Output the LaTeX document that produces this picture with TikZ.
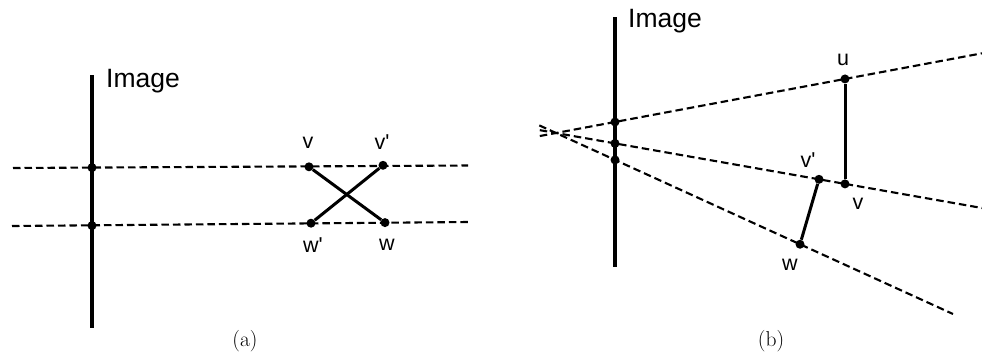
\documentclass[tikz,border=0pt]{standalone}
\usepackage{fontspec}
\newfontfamily\lblfont{Liberation Sans}
\usetikzlibrary{calc}
\begin{document}
\begin{tikzpicture}[x=1pt,y=-1pt,
  imgline/.style={line width=3.4pt},
  rayline/.style={line width=2.1pt, dash pattern=on 7.5pt off 4pt},
  segline/.style={line width=3pt},
  dotnode/.style={circle, fill=black, inner sep=0pt, minimum size=9pt},
  lbl/.style={font=\lblfont\fontsize{21.5}{23}\selectfont, inner sep=0pt},
  imglbl/.style={font=\lblfont\fontsize{26.5}{28}\selectfont, inner sep=0pt, anchor=base west},
  captext/.style={font=\fontsize{21.5}{25}\selectfont, inner sep=0pt}]
\useasboundingbox (0,0) rectangle (982,360);
% ---------- panel (a) ----------
\coordinate (aTop) at (92,75);
\coordinate (aBot) at (92,328);
\draw[imgline] (aTop) -- (aBot);
\node[imglbl] (aImg) at (106,87) {Image};
\coordinate (aL1s) at (13,168);
\coordinate (aL1e) at (468,165.5);
\coordinate (aL2s) at (12,226);
\coordinate (aL2e) at (468,222);
\draw[rayline] (aL1s) -- (aL1e);
\draw[rayline] (aL2s) -- (aL2e);
\node[dotnode] (aP1) at (92,167.6) {};
\node[dotnode] (aP2) at (92,225.6) {};
\node[dotnode] (av) at (309,166.8) {};
\node[dotnode] (avp) at (383,165.3) {};
\node[dotnode] (awp) at (311,223.2) {};
\node[dotnode] (aw) at (385,222.6) {};
\draw[segline] (av) -- (aw);
\draw[segline] (awp) -- (avp);
\node[lbl] (avl) at (308,143) {v};
\node[lbl] (avpl) at (382,142) {v'};
\node[lbl] (awpl) at (313,245) {w'};
\node[lbl] (awl) at (387,245) {w};
\node[captext] (capa) at (245,341) {(a)};
% ---------- panel (b) ----------
\coordinate (bTop) at (615,17);
\coordinate (bBot) at (615,267);
\draw[imgline] (bTop) -- (bBot);
\node[imglbl] (bImg) at (628,27) {Image};
\coordinate (apex) at (556,133);
\coordinate (r1) at (982,53.3);
\coordinate (r2) at (982,208);
\coordinate (r3) at (953,314);
\draw[rayline] ($(apex)!-0.038!(r1)$) -- (r1);
\draw[rayline] ($(apex)!-0.038!(r2)$) -- (r2);
\draw[rayline] ($(apex)!-0.042!(r3)$) -- (r3);
\node[dotnode] (bP1) at ($(apex)!{59/426}!(r1)$) {};
\node[dotnode] (bP2) at ($(apex)!{59/426}!(r2)$) {};
\node[dotnode] (bP3) at ($(apex)!{59/397}!(r3)$) {};
\node[dotnode] (bu) at ($(apex)!{289/426}!(r1)$) {};
\node[dotnode] (bv) at ($(apex)!{289/426}!(r2)$) {};
\node[dotnode] (bvp) at ($(apex)!{263/426}!(r2)$) {};
\node[dotnode] (bw) at ($(apex)!{244/397}!(r3)$) {};
\draw[segline] (bu) -- (bv);
\draw[segline] (bw) -- (bvp);
\node[lbl] (bul) at (843,60) {u};
\node[lbl] (bvl) at (858,204) {v};
\node[lbl] (bvpl) at (808,160) {v'};
\node[lbl] (bwl) at (790,265) {w};
\node[captext] (capb) at (771,341) {(b)};
\end{tikzpicture}
\end{document}
